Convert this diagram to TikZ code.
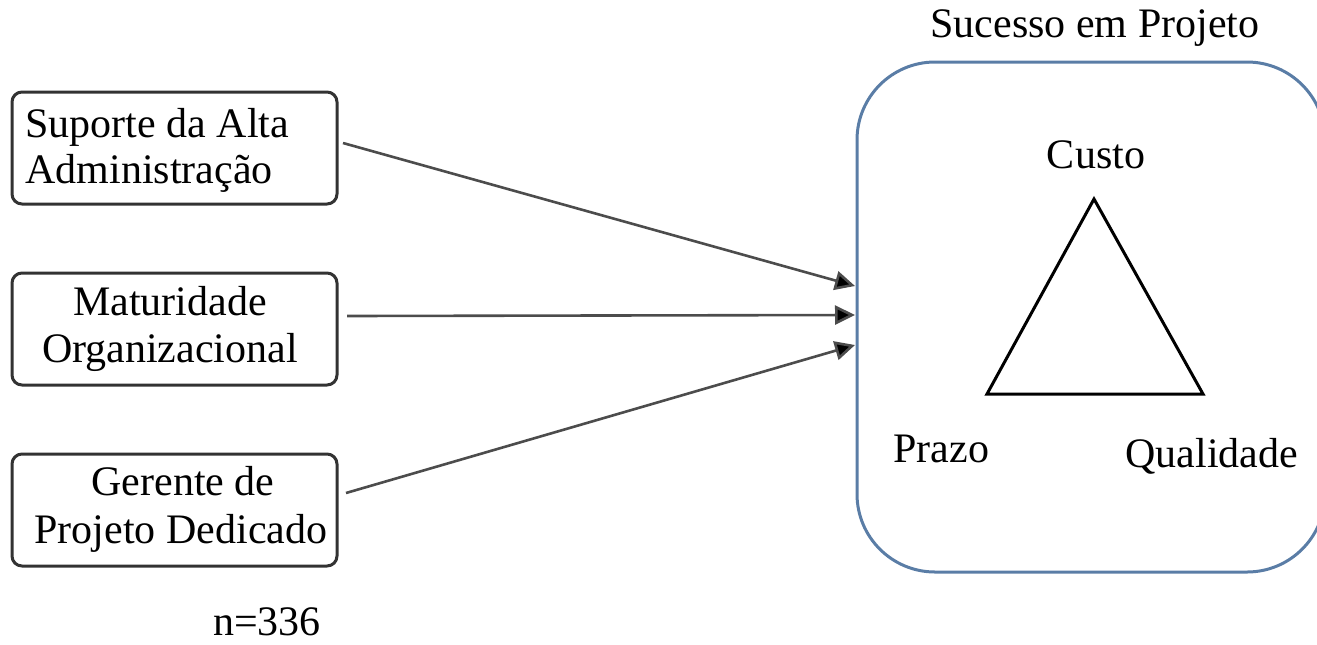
\documentclass[tikz,border=0pt]{standalone}
\usepackage{fontspec}
\setmainfont{Liberation Serif}
\usetikzlibrary{arrows.meta}
\definecolor{boxblue}{HTML}{5A7DA6}
\begin{document}
\begin{tikzpicture}[x=0.5pt,y=-0.5pt,
  txt/.style={inner sep=0pt,font=\fontsize{21}{23}\selectfont},
  inbox/.style={draw=black!80,line width=1.5pt,rounded corners=5pt,minimum width=162.5pt,minimum height=56pt,inner sep=0pt},
  bigbox/.style={draw=boxblue,line width=1.5pt,rounded corners=39pt,minimum width=234pt,minimum height=255pt,inner sep=0pt},
  conn/.style={draw=black!70,line width=1.3pt,-{Triangle[length=10pt,width=9.5pt,fill=black]}}]
\useasboundingbox (0,0) rectangle (1317,644);
% input boxes
\node[inbox] (b1) at (174.5,148) {};
\node[inbox] (b2) at (174.5,329) {};
\node[inbox] (b3) at (174.5,510) {};
\node[txt,anchor=base west] (t1a) at (25,137) {Suporte da Alta};
\node[txt,anchor=base west] (t1b) at (25,183) {Administração};
\node[txt,anchor=base] (t2a) at (170,315) {Maturidade};
\node[txt,anchor=base] (t2b) at (170,362) {Organizacional};
\node[txt,anchor=base] (t3a) at (183,495) {Gerente de};
\node[txt,anchor=base] (t3b) at (181,543) {Projeto Dedicado};
\node[txt,anchor=base] (n) at (267,635) {n=336};
% outcome box
\node[bigbox] (big) at (1091,317) {};
\node[txt,anchor=base] (title) at (1095,37) {Sucesso em Projeto};
\node[txt,anchor=base] (custo) at (1096,168) {Custo};
\node[txt,anchor=base west] (prazo) at (893,462) {Prazo};
\node[txt,anchor=base west] (qual) at (1125,467) {Qualidade};
\coordinate (apex) at (1094,199);
\coordinate (bl) at (987,394);
\coordinate (br) at (1203,394);
\draw[line width=1.5pt,line join=miter] (apex) -- (br) -- (bl) -- cycle;
% connectors
\coordinate (s1) at (343,143);
\coordinate (s2) at (347,316);
\coordinate (s3) at (346,493);
\coordinate (e1) at (855,286);
\coordinate (e2) at (855,315);
\coordinate (e3) at (855,345);
\draw[conn] (s1) -- (e1);
\draw[conn] (s2) -- (e2);
\draw[conn] (s3) -- (e3);
\end{tikzpicture}
\end{document}
